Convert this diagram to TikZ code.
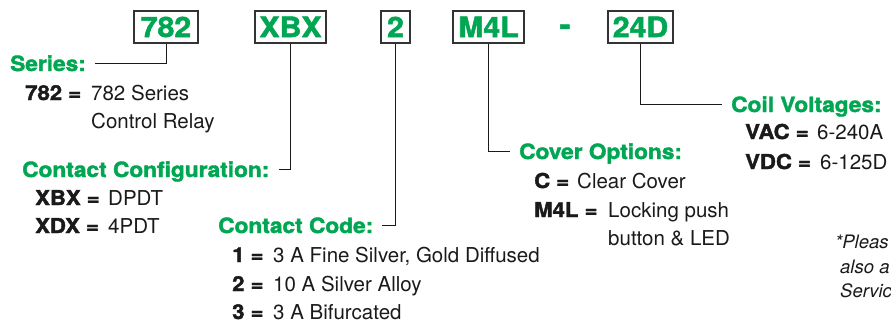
\documentclass[tikz,border=0pt]{standalone}
\usepackage{fontspec}
\setmainfont{TeX Gyre Heros}[BoldFeatures={FakeBold=1.8, FakeStretch=1.08}]
\usetikzlibrary{positioning}
\definecolor{relaygreen}{RGB}{0,166,81}
\definecolor{boxgray}{RGB}{51,51,51}
\definecolor{inkblack}{RGB}{26,26,26}

\tikzset{
  codebox/.style={draw=boxgray, line width=1.8pt, text=relaygreen, font=\fontsize{28}{30}\selectfont\bfseries,
    minimum height=32pt, inner xsep=0pt, text height=20pt, text depth=0pt},
  heading/.style={text=relaygreen, font=\fontsize{21}{24}\selectfont\bfseries, anchor=base west,
    inner sep=0pt, text height=15pt, text depth=0pt},
  keytext/.style={text=inkblack, font=\fontsize{20.5}{24}\selectfont\bfseries, anchor=base west, inner sep=0pt},
  valtext/.style={text=inkblack, font=\fontsize{20.5}{24}\selectfont, anchor=base west, inner sep=0pt},
  notetext/.style={text=inkblack, font=\fontsize{18.5}{22}\selectfont\itshape, anchor=base west, inner sep=0pt},
  leader/.style={draw=inkblack, line width=1pt, shorten >=9pt}
}

\begin{document}
\begin{tikzpicture}[x=1pt, y=-1pt]

    \useasboundingbox (0,0) rectangle (891,322);
    \clip (0,0) rectangle (891,322);

    % the ordering code
    \node[codebox, minimum width=64pt] (b782) at (166,27) {782};
    \node[codebox, minimum width=71pt] (bXBX) at (290.5,27) {XBX};
    \node[codebox, minimum width=29pt] (b2) at (395.5,27) {2};
    \node[codebox, minimum width=71pt] (bM4L) at (488.5,27) {M4L};
    \node[text=relaygreen, font=\fontsize{30}{30}\selectfont\bfseries, anchor=base, inner sep=0pt] (dash) at (565,35) {-};
    \node[codebox, minimum width=65pt] (b24D) at (640.5,27) {24D};

    \node[heading] (series) at (10,71) {Series:};
    \node[heading] (config) at (22,177) {Contact Configuration:};
    \node[heading] (contact) at (218,233) {Contact Code:};
    \node[heading] (cover) at (519,159) {Cover Options:};
    \node[heading] (coil) at (731,112) {Coil Voltages:};

    \draw[leader] (b782.south) |- (series.east);
    \draw[leader] (bXBX.south) |- (config.east);
    \draw[leader] (b2.south) |- (contact.east);
    \draw[leader] (bM4L.south) |- (cover.west);
    \draw[leader] (b24D.south) |- (coil.west);

    % series
    \node[keytext] (k782) at (25,100) {782 =};
    \node[valtext] (v782a) at (91,100) {782 Series};
    \node[valtext] (v782b) at (91,128) {Control Relay};

    % contact configuration
    \node[keytext] (kXBX) at (35,205) {XBX =};
    \node[valtext] (vXBX) at (108,205) {DPDT};
    \node[keytext] (kXDX) at (35,233) {XDX =};
    \node[valtext] (vXDX) at (108,233) {4PDT};

    % contact code
    \node[keytext] (kone) at (232,262) {1 =};
    \node[valtext] (vone) at (273,262) {3 A Fine Silver, Gold Diffused};
    \node[keytext] (ktwo) at (232,291) {2 =};
    \node[valtext] (vtwo) at (273,291) {10 A Silver Alloy};
    \node[keytext] (kthree) at (232,319) {3 =};
    \node[valtext] (vthree) at (273,319) {3 A Bifurcated};

    % cover options
    \node[keytext] (kC) at (534,188) {C =};
    \node[valtext] (vC) at (577,188) {Clear Cover};
    \node[keytext] (kM4L) at (534,217) {M4L =};
    \node[valtext] (vM4La) at (608,217) {Locking push};
    \node[valtext] (vM4Lb) at (608,245) {button \& LED};

    % coil voltages
    \node[keytext] (kVAC) at (745,139) {VAC =};
    \node[valtext] (vVAC) at (817,139) {6-240A};
    \node[keytext] (kVDC) at (745,169) {VDC =};
    \node[valtext] (vVDC) at (820,169) {6-125D};

    \node[notetext] (note1) at (835,248) {*Pleas};
    \node[notetext] (note2) at (840,273) {also a};
    \node[notetext] (note3) at (840,297) {Servic};

\end{tikzpicture}
\end{document}
